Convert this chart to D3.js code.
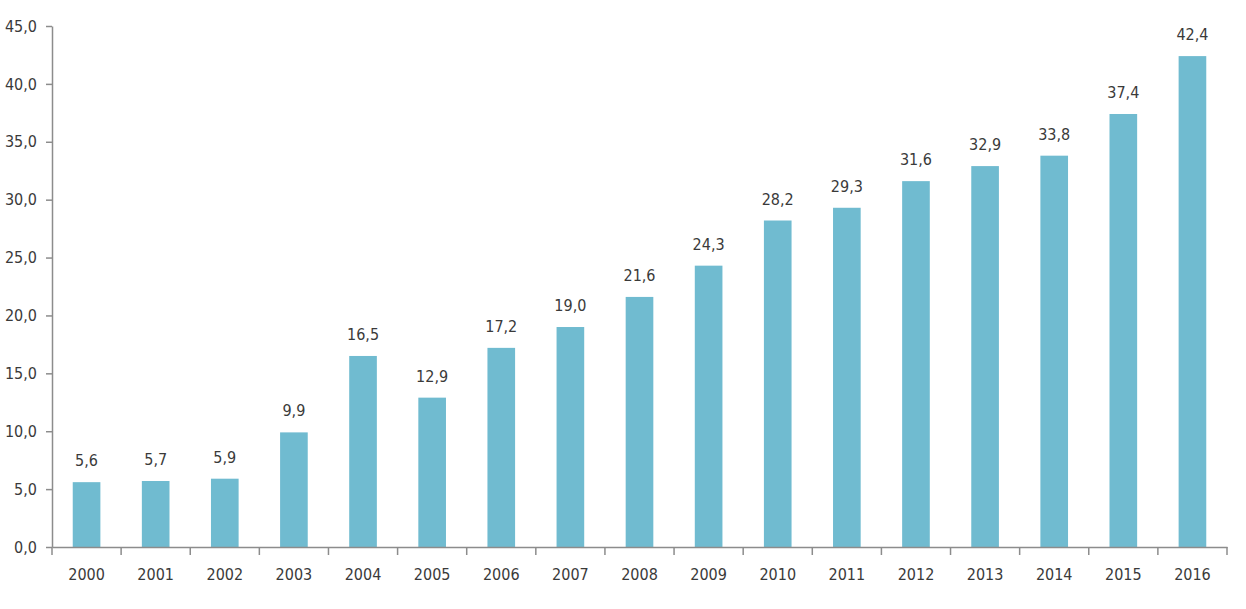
<!DOCTYPE html>
<html><head><meta charset="utf-8">
<script src="https://cdn.jsdelivr.net/npm/d3@7"></script>
<style>
body{margin:0;background:#fff;}
text{font-family:"DejaVu Sans Condensed","DejaVu Sans",sans-serif;font-stretch:condensed;fill:#3a3a3a;}
</style></head>
<body><svg id="c" width="1246" height="609"></svg>
<script>
const years = ["2000","2001","2002","2003","2004","2005","2006","2007","2008","2009","2010","2011","2012","2013","2014","2015","2016"];
const values = [5.6,5.7,5.9,9.9,16.5,12.9,17.2,19.0,21.6,24.3,28.2,29.3,31.6,32.9,33.8,37.4,42.4];
const yTicks = [0,5,10,15,20,25,30,35,40,45];

(function(){
const fmt = v => v.toFixed(1).replace(".", ",");
const svg = d3.select("#c");
const mL = 52, mR = 1227, mT = 26, mB = 547;
const x = d3.scaleBand().domain(years).range([mL, mR]).paddingInner(0.6).paddingOuter(0.3);
const xb = d3.scaleBand().domain(years).range([mL, mR]);
const y = d3.scaleLinear().domain([0,45]).range([mB, mT]);
const axisColor = "#8c8c8c";
const fs = 16;

svg.selectAll("rect.bar").data(values).join("rect")
  .attr("class","bar")
  .attr("x",(d,i)=>x(years[i]))
  .attr("width",x.bandwidth())
  .attr("y",d=>y(d))
  .attr("height",d=>y(0)-y(d))
  .attr("fill","#70bbd0");

svg.selectAll("text.lbl").data(values).join("text")
  .attr("class","lbl")
  .attr("x",(d,i)=>xb(years[i])+xb.bandwidth()/2)
  .attr("y",d=>y(d)-16)
  .attr("text-anchor","middle")
  .attr("font-size",fs)
  .text(d=>fmt(d));

const ya = svg.append("g").attr("transform",`translate(${mL},0)`)
  .call(d3.axisLeft(y).tickValues(yTicks).tickFormat(fmt).tickSize(6).tickSizeOuter(0).tickPadding(9));
ya.attr("font-family",null).attr("font-size",null);
ya.select(".domain").attr("stroke",axisColor).attr("stroke-width",1.5);
ya.selectAll(".tick line").attr("stroke",axisColor).attr("stroke-width",1.5);
ya.selectAll(".tick text").attr("font-size",fs).attr("fill","#3a3a3a");

const xa = svg.append("g").attr("transform",`translate(0,${mB})`)
  .call(d3.axisBottom(xb).tickSize(0).tickPadding(22));
xa.attr("font-family",null).attr("font-size",null);
xa.select(".domain").attr("stroke",axisColor).attr("stroke-width",1.5);
xa.selectAll(".tick text").attr("font-size",fs).attr("fill","#3a3a3a");
const bounds = years.map(d=>xb(d)).concat([mR]);
svg.append("g").selectAll("line").data(bounds).join("line")
  .attr("x1",d=>d).attr("x2",d=>d)
  .attr("y1",mB).attr("y2",mB+8)
  .attr("stroke",axisColor).attr("stroke-width",1.5);
})();
</script></body></html>
